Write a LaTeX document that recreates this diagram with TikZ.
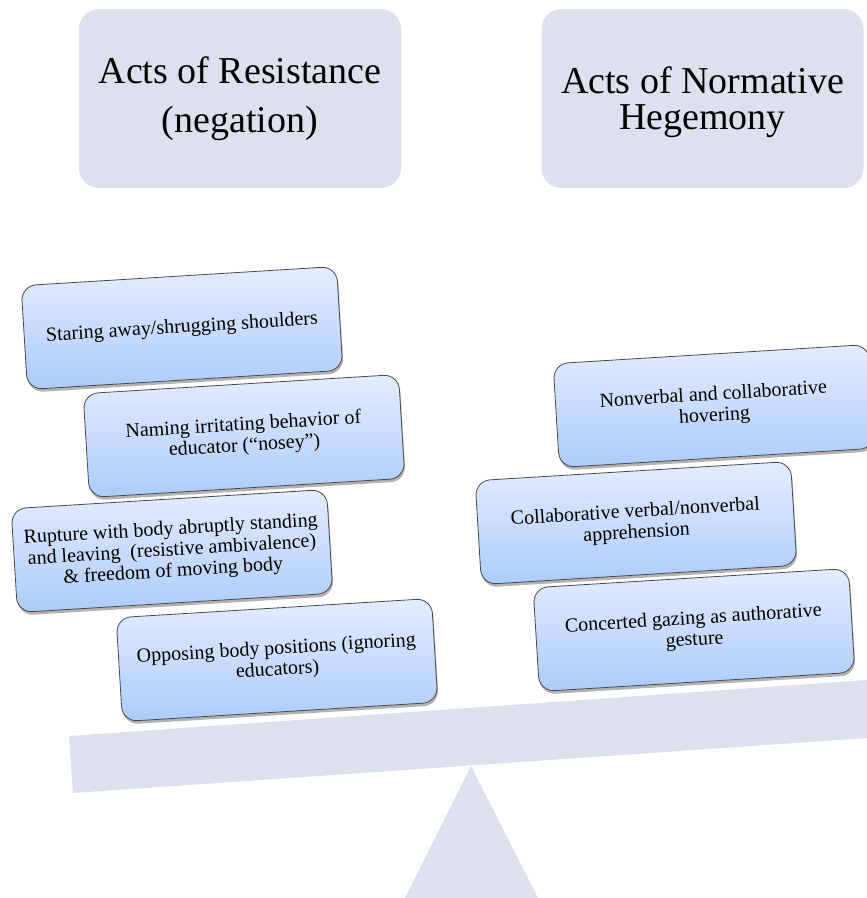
\documentclass[tikz,border=0pt]{standalone}
\usepackage{fontspec}
\setmainfont{Liberation Serif}
\usetikzlibrary{shadows}

\definecolor{panel}{RGB}{220,225,237}
\definecolor{cardtop}{RGB}{228,237,255}
\definecolor{cardbot}{RGB}{172,203,250}
\definecolor{cardedge}{RGB}{72,72,72}

\begin{document}
\begin{tikzpicture}[x=1pt,y=-1pt,
  header/.style={fill=panel, rounded corners=20pt, minimum width=322pt,
    minimum height=179pt, align=center, inner sep=0pt},
  card/.style={draw=cardedge, line width=0.8pt, rounded corners=15pt,
    top color=cardtop, bottom color=cardbot,
    minimum width=316pt, minimum height=104pt, inner sep=0pt,
    align=center, font=\fontsize{20}{21}\selectfont, rotate=3.5,
    drop shadow={shadow xshift=1pt, shadow yshift=-3pt, opacity=0.3, fill=black}},
  plank/.style={fill=panel, draw=none},
]
\useasboundingbox (0,0) rectangle (867,898);

% headings
\node[header, font=\fontsize{38}{49}\selectfont] (resist) at (240,98.5)
  {Acts of Resistance\\(negation)};
\node[header, font=\fontsize{38}{36}\selectfont] (hegem) at (702.5,98.5)
  {\rule{0pt}{35pt}Acts of Normative\\Hegemony};

% the balance: beam and fulcrum
\path[plank] (69,736) -- (867,680) -- (867,738) -- (73,793) -- cycle;
\path[plank] (471,766) -- (538,898) -- (405,898) -- cycle;

% left pan
\node[card] (c1) at (182,328) {Staring away/shrugging shoulders};
\node[card] (c2) at (244,436) {Naming irritating behavior of\\educator (“nosey”)};
\node[card] (c3) at (172,551) {Rupture with body abruptly standing\\and leaving\ \ (resistive ambivalence)\\\& freedom of moving body};
\node[card] (c4) at (277,660) {Opposing body positions (ignoring\\educators)};

% right pan
\node[card] (c5) at (714,406) {Nonverbal and collaborative\\hovering};
\node[card] (c6) at (636,523) {Collaborative verbal/nonverbal\\apprehension};
\node[card] (c7) at (694,630) {Concerted gazing as authorative\\gesture};
\end{tikzpicture}
\end{document}
